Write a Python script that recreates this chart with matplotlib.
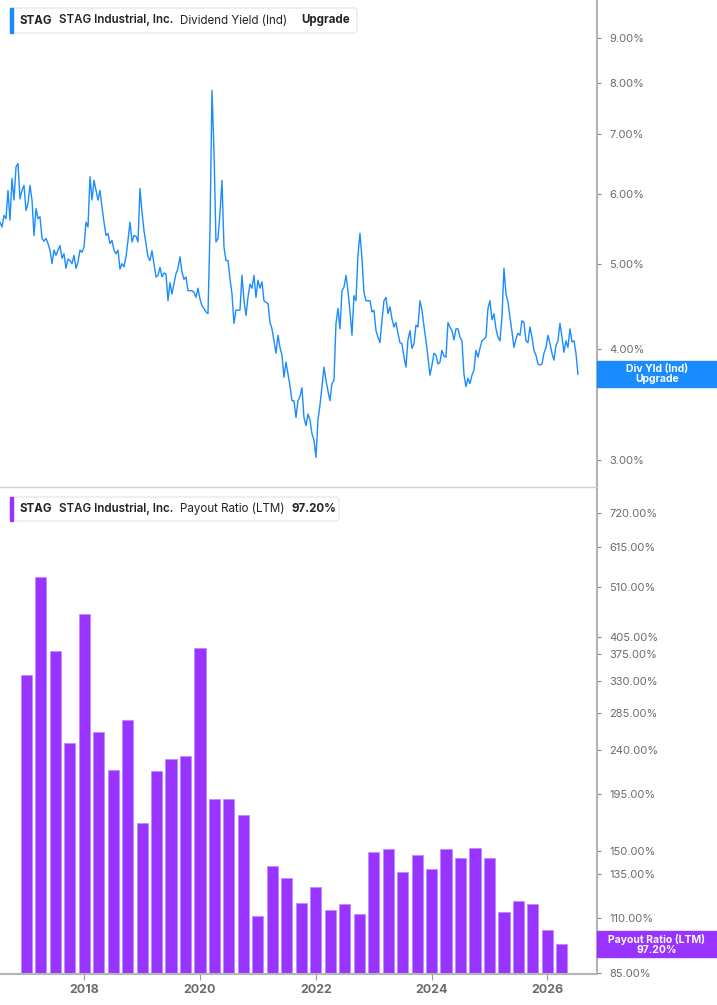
import matplotlib.pyplot as plt
from matplotlib.patches import FancyBboxPatch, Rectangle
from matplotlib.ticker import FixedLocator, NullLocator
import numpy as np

plt.rcParams['font.family'] = ['Inter', 'DejaVu Sans']

yield_start = 2016.546
yield_step = 0.03454
div_yield = [
    5.57, 5.50, 5.67, 5.62, 6.05, 5.60, 6.24, 5.90, 6.43, 6.49,
    5.92, 6.05, 6.13, 5.74, 5.85, 6.13, 5.90, 5.38, 5.77, 5.62,
    5.65, 5.34, 5.30, 5.34, 5.27, 5.18, 5.00, 5.18, 5.11, 5.18,
    5.24, 5.07, 5.13, 4.94, 5.06, 5.04, 5.00, 5.11, 4.94, 5.02,
    5.18, 5.15, 5.22, 5.57, 5.50, 6.27, 5.90, 6.21, 6.05, 5.90,
    6.05, 5.79, 5.57, 5.38, 5.41, 5.27, 5.31, 5.18, 5.13, 5.18,
    4.93, 5.00, 4.96, 5.09, 5.31, 5.57, 5.29, 5.38, 5.37, 5.29,
    6.08, 5.72, 5.45, 5.27, 5.09, 5.04, 5.17, 5.00, 4.83, 4.85,
    4.95, 4.83, 4.88, 4.87, 4.54, 4.76, 4.62, 4.75, 4.87, 4.94,
    5.09, 4.89, 4.80, 4.83, 4.66, 4.66, 4.66, 4.64, 4.58, 4.69,
    4.56, 4.48, 4.45, 4.41, 4.39, 5.45, 7.85, 6.71, 5.29, 5.34,
    5.70, 6.21, 5.22, 5.04, 5.04, 4.81, 4.62, 4.28, 4.43, 4.43,
    4.43, 4.85, 4.54, 4.37, 4.58, 4.74, 4.69, 4.85, 4.58, 4.79,
    4.69, 4.77, 4.54, 4.52, 4.51, 4.29, 4.22, 4.09, 3.96, 4.15,
    4.02, 3.94, 3.72, 3.87, 3.75, 3.64, 3.50, 3.50, 3.35, 3.50,
    3.54, 3.62, 3.35, 3.28, 3.38, 3.33, 3.21, 3.16, 3.02, 3.33,
    3.46, 3.63, 3.82, 3.69, 3.59, 3.50, 3.66, 3.69, 4.28, 4.45,
    4.22, 4.66, 4.70, 4.85, 4.66, 4.42, 4.15, 4.60, 4.54, 5.11,
    5.41, 5.07, 4.64, 4.54, 4.54, 4.54, 4.41, 4.43, 4.20, 4.13,
    4.07, 4.31, 4.54, 4.58, 4.39, 4.47, 4.33, 4.24, 4.29, 4.17,
    4.07, 4.06, 3.92, 3.82, 4.10, 4.20, 4.01, 4.06, 4.26, 4.24,
    4.54, 4.43, 4.25, 4.09, 3.92, 3.74, 3.84, 3.96, 3.94, 3.85,
    3.87, 3.99, 3.93, 3.92, 4.29, 4.24, 4.20, 4.10, 4.22, 4.22,
    4.13, 4.09, 3.75, 3.63, 3.71, 3.66, 3.74, 3.79, 3.99, 3.92,
    4.01, 4.09, 4.11, 4.13, 4.45, 4.54, 4.32, 4.39, 4.22, 4.13,
    4.09, 4.35, 4.94, 4.62, 4.53, 4.35, 4.19, 4.02, 4.11, 4.17,
    4.15, 4.31, 4.29, 4.09, 4.07, 4.24, 4.13, 3.99, 3.94, 3.85,
    3.84, 3.85, 3.96, 4.02, 4.15, 4.06, 3.96, 3.89, 4.04, 4.09,
    4.28, 4.13, 3.97, 4.09, 4.02, 4.22, 4.08, 4.09, 3.96, 3.75,
]

# Payout ratio (LTM), %, quarterly from 2017
payout_start = 2017.0
payout_step = 0.25
payout_ratio = [339, 536, 380, 247, 450, 261, 218, 275, 171, 217,
                230, 233, 384, 191, 191, 177, 111, 140, 132, 118,
                127, 114, 117, 112, 149, 151, 136, 147, 138, 151,
                145, 152, 145, 113, 119, 117, 104, 97.2]

yield_ticks = [3, 4, 5, 6, 7, 8, 9]
payout_ticks = [85, 110, 135, 150, 195, 240, 285, 330, 375, 405, 510, 615, 720]
year_ticks = [2018, 2020, 2022, 2024, 2026]

BLUE = '#1a8cff'
PURPLE = '#9933ff'
GRAY = '#b4b4b4'
W, H = 717, 1005

fig = plt.figure(figsize=(W / 100, H / 100), dpi=100)


def px_axes(x0, y0, x1, y1):
    return fig.add_axes([x0 / W, 1 - y1 / H, (x1 - x0) / W, (y1 - y0) / H])


ax1 = px_axes(0, 0, 597, 487)
ax2 = px_axes(0, 489, 597, 974)

x_line = yield_start + yield_step * np.arange(len(div_yield))
x_bars = payout_start + payout_step * np.arange(len(payout_ratio))

ax1.plot(x_line, div_yield, color=BLUE, lw=1.0)
ax2.bar(x_bars, payout_ratio, width=0.192, color=PURPLE,
        edgecolor='#c08aff', linewidth=0.6)

for ax, ticks, lim in [(ax1, yield_ticks, (2.796, 9.93)),
                       (ax2, payout_ticks, (84.7, 805))]:
    ax.set_yscale('log')
    ax.set_ylim(*lim)
    ax.set_xlim(2016.546, 2026.857)
    ax.yaxis.tick_right()
    ax.yaxis.set_major_locator(FixedLocator(ticks))
    ax.yaxis.set_minor_locator(NullLocator())
    ax.set_yticklabels([f'{t:.2f}%' for t in ticks])
    for s in ['left', 'top']:
        ax.spines[s].set_visible(False)
    for s in ['right', 'bottom']:
        ax.spines[s].set_color(GRAY)
        ax.spines[s].set_linewidth(1.5)
    ax.tick_params(axis='y', length=3, width=0.8, color='#888888', pad=6,
                   labelsize=8, labelcolor='#6b6b6b')

ax1.set_xticks([])
ax1.spines['bottom'].set_linewidth(1.0)
ax1.spines['bottom'].set_color('#d0d0d0')
ax2.set_xticks(year_ticks)
ax2.set_xticklabels([str(y) for y in year_ticks], fontweight='bold')
ax2.tick_params(axis='x', length=4, width=0.8, color='#999999', pad=3,
                labelsize=9, labelcolor='#6b6b6b')


# Header boxes
def header(y0, y1, x1, color, pieces):
    fig.add_artist(FancyBboxPatch((10 / W, 1 - y1 / H), (x1 - 10) / W, (y1 - y0) / H,
                                  boxstyle='round,pad=0,rounding_size=0.004',
                                  transform=fig.transFigure, facecolor='white',
                                  edgecolor='#e4e4e4', lw=0.8))
    fig.add_artist(Rectangle((10 / W, 1 - y1 / H), 3 / W, (y1 - y0) / H,
                             transform=fig.transFigure, color=color))
    yc = 1 - (y0 + y1) / 2 / H
    for x, txt, wt in pieces:
        fig.text(x / W, yc, txt, ha='left', va='center', fontsize=8.3,
                 fontweight=wt, color='#222222')


header(8, 33, 357, BLUE, [(20, 'STAG', 'bold'), (59, 'STAG Industrial, Inc.', 'semibold'),
                          (180, 'Dividend Yield (Ind)', 'normal'), (301, 'Upgrade', 'bold')])
header(497, 521, 339, PURPLE, [(20, 'STAG', 'bold'), (59, 'STAG Industrial, Inc.', 'semibold'),
                               (180, 'Payout Ratio (LTM)', 'normal'), (291, '97.20%', 'bold')])


# Last-value labels on the right axis
def value_tag(ax, x, val, color, txt):
    yc = ax.transData.transform((x, val))[1]
    fig.add_artist(Rectangle((597 / W, (yc - 13) / H), 120 / W, 26 / H,
                             transform=fig.transFigure, color=color))
    fig.text(657 / W, yc / H, txt, ha='center', va='center', fontsize=7.5,
             fontweight='bold', color='white', linespacing=1.0)


value_tag(ax1, x_line[-1], div_yield[-1], BLUE, 'Div Yld (Ind)\nUpgrade')
value_tag(ax2, x_bars[-1], payout_ratio[-1], PURPLE, 'Payout Ratio (LTM)\n97.20%')

fig.savefig('out.png', dpi=100)
